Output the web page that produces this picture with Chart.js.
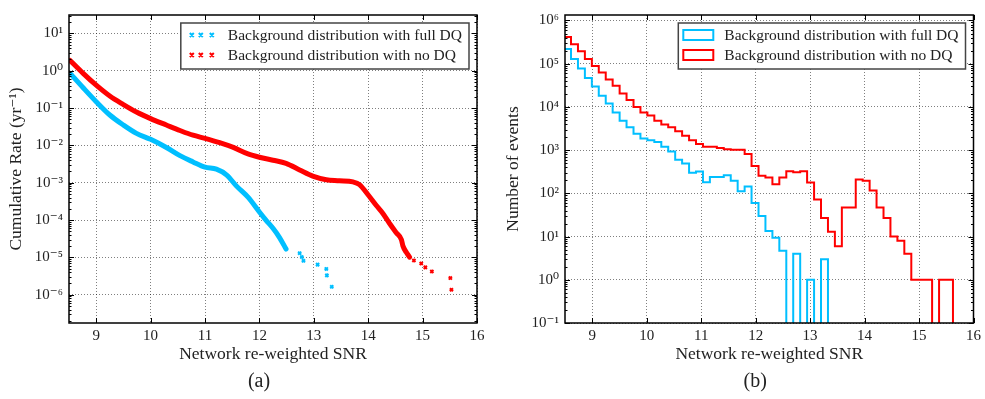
<!DOCTYPE html>
<html>
<head>
<meta charset="utf-8">
<script src="https://cdn.jsdelivr.net/npm/chart.js@4.4.1/dist/chart.umd.min.js"></script>
<style>
    html, body { margin: 0; padding: 0; background: #fff; }
    #wrap { position: relative; width: 985px; height: 399px; }
    .panel { position: absolute; top: 0; height: 399px; }
    #panel-a { left: 0; width: 490px; }
    #panel-b { left: 490px; width: 495px; }
</style>
</head>
<body>
<div id="wrap">
    <div class="panel" id="panel-a"><canvas id="rate-chart"></canvas></div>
    <div class="panel" id="panel-b"><canvas id="hist-chart"></canvas></div>
</div>
<script>
const SERIES_LABELS = ['Background distribution with full DQ', 'Background distribution with no DQ'];
const X_TITLE = 'Network re-weighted SNR';
const Y_TITLES = ['Cumulative Rate (yr\u207B\u00B9)', 'Number of events'];
const PANEL_TAGS = ['(a)', '(b)'];
const X_TICKS = [9, 10, 11, 12, 13, 14, 15, 16];

// (a) cumulative rate, dense part of each curve
const BLUE_SNR = [8.52, 8.76, 9.0, 9.25, 9.5, 9.74, 10.0, 10.29, 10.54, 10.78, 11.0, 11.21, 11.4, 11.58, 11.79, 12.0, 12.12, 12.25, 12.37, 12.49];
const BLUE_RATE = [0.85, 0.35, 0.148, 0.065, 0.035, 0.021, 0.0145, 0.0088, 0.0053, 0.0036, 0.0026, 0.0023, 0.0016, 8.1e-4, 4.1e-4, 1.65e-4, 1.0e-4, 6.0e-5, 3.4e-5, 1.67e-5];
const RED_SNR = [8.52, 8.76, 9.0, 9.25, 9.5, 9.74, 10.0, 10.29, 10.54, 10.78, 11.0, 11.27, 11.52, 11.79, 12.0, 12.25, 12.49, 12.74, 12.98, 13.23, 13.47, 13.72, 13.84, 13.99, 14.15, 14.27, 14.39, 14.52, 14.61, 14.64, 14.7, 14.76];
const RED_RATE = [1.88, 0.85, 0.41, 0.21, 0.124, 0.078, 0.052, 0.035, 0.025, 0.0187, 0.0154, 0.0118, 0.0088, 0.0059, 0.0048, 0.0040, 0.0033, 0.0022, 0.0015, 0.0012, 0.00113, 0.00105, 8.9e-4, 4.9e-4, 2.45e-4, 1.5e-4, 8.2e-5, 4.5e-5, 3.0e-5, 2.0e-5, 1.37e-5, 1.02e-5];
// (a) sparse tail events
const BLUE_TAIL_SNR = [12.74, 12.78, 12.81, 13.07, 13.23, 13.24, 13.33];
const BLUE_TAIL_RATE = [1.3e-5, 1.02e-5, 8.1e-6, 6.4e-6, 4.9e-6, 3.3e-6, 1.63e-6];
const RED_TAIL_SNR = [14.84, 14.975, 15.05, 15.17, 15.51, 15.53];
const RED_TAIL_RATE = [8.3e-6, 6.9e-6, 5.4e-6, 4.2e-6, 2.8e-6, 1.36e-6];

// (b) histogram bin edges and counts
const BIN_EDGES = [8.483, 8.610, 8.738, 8.865, 8.993, 9.120, 9.248, 9.375, 9.503, 9.630, 9.758, 9.885, 10.013, 10.140, 10.268, 10.395, 10.523, 10.650, 10.778, 10.905, 11.033, 11.160, 11.288, 11.415, 11.543, 11.670, 11.798, 11.925, 12.053, 12.180, 12.308, 12.435, 12.563, 12.690, 12.818, 12.945, 13.073, 13.200, 13.328, 13.455, 13.583, 13.710, 13.838, 13.965, 14.093, 14.220, 14.348, 14.475, 14.603, 14.730, 14.858, 14.985, 15.113, 15.240, 15.368, 15.495, 15.623];
const BLUE_COUNTS = [219000, 129000, 77600, 46800, 29500, 18200, 12000, 7400, 4800, 3400, 2400, 1860, 1700, 1550, 1200, 930, 600, 490, 300, 320, 180, 240, 240, 263, 195, 112, 145, 60, 30, 13.5, 9.4, 4.7, 0, 4, 0, 1, 0, 3];
const RED_COUNTS = [417000, 282000, 195000, 129000, 89000, 63000, 43000, 31000, 20400, 14500, 10000, 7400, 6300, 4800, 3900, 3400, 2750, 2150, 1700, 1380, 1200, 1200, 1120, 1050, 1020, 1020, 810, 430, 257, 234, 162, 234, 324, 309, 324, 178, 72, 27, 13, 6, 47, 47, 209, 195, 117, 47, 27, 10, 8, 4, 1, 1, 1, 0, 1, 1];

const FONT = "'Liberation Serif', 'DejaVu Serif', serif";
const BLUE = '#00bfff';
const RED = '#ff0000';
const TEXT = '#222';
const GRID = 'rgba(0,0,0,0.5)';
const SUP = { '-': '\u207B', '0': '\u2070', '1': '\u00B9', '2': '\u00B2', '3': '\u00B3', '4': '\u2074', '5': '\u2075', '6': '\u2076', '7': '\u2077', '8': '\u2078', '9': '\u2079' };

function zip(xs, ys) {
    return xs.map((x, i) => ({ x, y: ys[i] }));
}

function isPow10(v) {
    const l = Math.log10(v);
    return Math.abs(l - Math.round(l)) < 1e-9;
}

function powLabel(v) {
    if (!isPow10(v)) return '';
    return '10' + String(Math.round(Math.log10(v))).split('').map(c => SUP[c]).join('');
}

function logTicks(min, max) {
    const out = [];
    for (let e = Math.floor(Math.log10(min)); e <= Math.ceil(Math.log10(max)); e++) {
        for (let m = 1; m < 10; m++) {
            const v = m * Math.pow(10, e);
            if (v >= min && v <= max) out.push({ value: v, major: m === 1 });
        }
    }
    return out;
}

// step outline like matplotlib histtype='step'; empty bins drop below the axis
function histPoints(counts) {
    const pts = counts.map((c, i) => ({ x: BIN_EDGES[i], y: c > 0 ? c : 1e-4 }));
    pts.push({ x: BIN_EDGES[counts.length], y: 1e-4 });
    return pts;
}

const frameTicks = {
    id: 'frameTicks',
    afterDatasetsDraw(chart) {
        const { ctx, chartArea: a, scales: { x, y } } = chart;
        ctx.save();
        ctx.strokeStyle = '#000';
        ctx.lineWidth = 1;
        ctx.beginPath();
        x.ticks.forEach(t => {
            const px = Math.round(x.getPixelForValue(t.value)) + 0.5;
            ctx.moveTo(px, a.bottom); ctx.lineTo(px, a.bottom - 5);
            ctx.moveTo(px, a.top); ctx.lineTo(px, a.top + 5);
        });
        y.ticks.forEach(t => {
            const py = Math.round(y.getPixelForValue(t.value)) + 0.5;
            const len = isPow10(t.value) ? 5 : 2.5;
            ctx.moveTo(a.left, py); ctx.lineTo(a.left + len, py);
            ctx.moveTo(a.right, py); ctx.lineTo(a.right - len, py);
        });
        ctx.stroke();
        ctx.lineWidth = 1.5;
        ctx.strokeRect(a.left, a.top, a.width, a.height);
        ctx.restore();
    }
};

const boxLegend = {
    id: 'boxLegend',
    afterDraw(chart, args, opts) {
        const { ctx, chartArea: a } = chart;
        const items = chart.data.datasets.filter(d => d.label);
        ctx.save();
        ctx.font = `15.5px ${FONT}`;
        const textW = Math.max(...items.map(d => ctx.measureText(d.label).width));
        const w = opts.textOffset + textW + 7;
        const h = 46;
        const left = a.right - 8 - w;
        const top = a.top + 8;
        ctx.fillStyle = '#fff';
        ctx.fillRect(left, top, w, h);
        ctx.strokeStyle = '#444';
        ctx.lineWidth = 1.5;
        ctx.strokeRect(left, top, w, h);
        items.forEach((d, i) => {
            const cy = top + 12 + i * 20;
            ctx.strokeStyle = d.borderColor;
            ctx.lineWidth = 2;
            ctx.beginPath();
            if (opts.marker === 'cross') {
                [11, 20, 31].forEach(dx => {
                    const cx = left + dx, r = 2;
                    ctx.moveTo(cx - r, cy - r); ctx.lineTo(cx + r, cy + r);
                    ctx.moveTo(cx - r, cy + r); ctx.lineTo(cx + r, cy - r);
                });
                ctx.stroke();
            } else {
                ctx.strokeRect(left + 5, cy - 5, 30, 10);
            }
            ctx.fillStyle = TEXT;
            ctx.textBaseline = 'middle';
            ctx.textAlign = 'left';
            ctx.fillText(d.label, left + opts.textOffset, cy + 1);
        });
        ctx.restore();
    }
};

const subCaption = {
    id: 'subCaption',
    afterDraw(chart, args, opts) {
        const { ctx, chartArea: a } = chart;
        ctx.save();
        ctx.font = `20px ${FONT}`;
        ctx.fillStyle = TEXT;
        ctx.textAlign = 'center';
        ctx.textBaseline = 'middle';
        ctx.fillText(opts.text, (a.left + a.right) / 2 - 14, 382);
        ctx.restore();
    }
};

function axisOptions(yMin, yMax, yWidth, yTitle, yTitlePad) {
    return {
        x: {
            type: 'linear', min: 8.5, max: 16,
            afterBuildTicks: s => { s.ticks = X_TICKS.map(v => ({ value: v })); },
            afterFit: s => { s.height = 50; },
            ticks: { autoSkip: false, padding: 4, color: TEXT, font: { family: FONT, size: 15 } },
            grid: { color: GRID, drawTicks: false, lineWidth: 1 },
            border: { display: false, dash: [1, 2] },
            title: { display: true, text: X_TITLE, color: TEXT, font: { family: FONT, size: 17.5 }, padding: { top: 0, bottom: 8 } }
        },
        y: {
            type: 'logarithmic', min: yMin, max: yMax,
            afterBuildTicks: s => { s.ticks = logTicks(yMin, yMax); },
            afterFit: s => { s.width = yWidth; },
            ticks: { autoSkip: false, padding: 6, color: TEXT, font: { family: FONT, size: 15 }, callback: v => powLabel(v) },
            grid: { color: c => (c.tick && isPow10(c.tick.value)) ? GRID : 'rgba(0,0,0,0)', drawTicks: false, lineWidth: 1 },
            border: { display: false, dash: [1, 2] },
            title: { display: true, text: yTitle, color: TEXT, font: { family: FONT, size: 17.5 }, padding: { top: yTitlePad, bottom: 0 } }
        }
    };
}

function renderRateChart() {
    const ctx = document.getElementById('rate-chart').getContext('2d');
    return new Chart(ctx, {
        type: 'scatter',
        data: {
            datasets: [
                { label: '', data: zip(BLUE_SNR, BLUE_RATE), showLine: true, borderColor: BLUE, borderWidth: 5, borderCapStyle: 'round', pointRadius: 0, cubicInterpolationMode: 'monotone' },
                { label: SERIES_LABELS[0], data: zip(BLUE_TAIL_SNR, BLUE_TAIL_RATE), borderColor: BLUE, backgroundColor: BLUE, pointStyle: 'crossRot', pointRadius: 2.2, pointBorderWidth: 2 },
                { label: '', data: zip(RED_SNR, RED_RATE), showLine: true, borderColor: RED, borderWidth: 5, borderCapStyle: 'round', pointRadius: 0, cubicInterpolationMode: 'monotone' },
                { label: SERIES_LABELS[1], data: zip(RED_TAIL_SNR, RED_TAIL_RATE), borderColor: RED, backgroundColor: RED, pointStyle: 'crossRot', pointRadius: 2.2, pointBorderWidth: 2 }
            ]
        },
        options: {
            responsive: true, maintainAspectRatio: false, animation: false,
            layout: { padding: { left: 0, right: 13, top: 6, bottom: 26 } },
            scales: axisOptions(1.75e-7, 31, 69, Y_TITLES[0], 6),
            plugins: {
                legend: { display: false }, tooltip: { enabled: false },
                boxLegend: { marker: 'cross', textOffset: 47 },
                subCaption: { text: PANEL_TAGS[0] }
            }
        },
        plugins: [frameTicks, boxLegend, subCaption]
    });
}

function renderHistChart() {
    const ctx = document.getElementById('hist-chart').getContext('2d');
    return new Chart(ctx, {
        type: 'line',
        data: {
            datasets: [
                { label: SERIES_LABELS[0], data: histPoints(BLUE_COUNTS), stepped: 'before', borderColor: BLUE, backgroundColor: 'rgba(0,0,0,0)', borderWidth: 2, pointRadius: 0, fill: false },
                { label: SERIES_LABELS[1], data: histPoints(RED_COUNTS), stepped: 'before', borderColor: RED, backgroundColor: 'rgba(0,0,0,0)', borderWidth: 2, pointRadius: 0, fill: false }
            ]
        },
        options: {
            responsive: true, maintainAspectRatio: false, animation: false,
            layout: { padding: { left: 0, right: 11, top: 6, bottom: 26 } },
            scales: axisOptions(0.1, 1.34e6, 75, Y_TITLES[1], 13),
            plugins: {
                legend: { display: false }, tooltip: { enabled: false },
                boxLegend: { marker: 'rect', textOffset: 46 },
                subCaption: { text: PANEL_TAGS[1] }
            }
        },
        plugins: [frameTicks, boxLegend, subCaption]
    });
}

renderRateChart();
renderHistChart();
</script>
</body>
</html>
